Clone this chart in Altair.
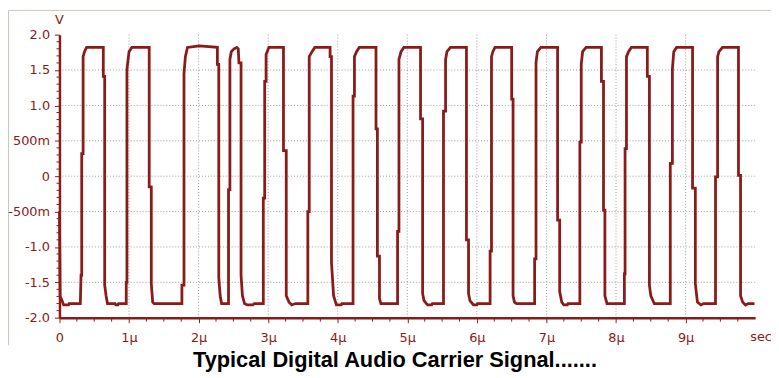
import altair as alt
import pandas as pd

# ---- waveform (time in microseconds, voltage in volts) ----
t_us = [
    0.00, 0.01, 0.03, 0.06, 0.13, 0.14, 0.30,
    0.31, 0.32, 0.32, 0.34, 0.34, 0.36, 0.39, 0.63,
    0.63, 0.65, 0.65, 0.67, 0.69, 0.80, 0.81, 0.84, 0.85, 0.96,
    0.96, 0.97, 0.97, 1.00, 1.04, 1.29,
    1.29, 1.32, 1.32, 1.34, 1.36, 1.76,
    1.76, 1.79, 1.79, 1.81, 1.84, 2.01, 2.27,
    2.27, 2.29, 2.29, 2.31, 2.33, 2.43,
    2.43, 2.45, 2.45, 2.47, 2.51, 2.55, 2.57, 2.58, 2.61, 2.61, 2.63, 2.66, 2.70, 2.78, 2.80, 2.93,
    2.93, 2.95, 2.95, 2.97, 2.97, 3.01, 3.22,
    3.22, 3.26, 3.26, 3.30, 3.34, 3.39, 3.57,
    3.57, 3.59, 3.59, 3.63, 3.67, 3.89,
    3.89, 3.91, 3.91, 3.94, 3.98, 4.05, 4.06, 4.22,
    4.22, 4.24, 4.24, 4.27, 4.31, 4.55,
    4.55, 4.57, 4.57, 4.60, 4.60, 4.62, 4.86,
    4.86, 4.88, 4.88, 4.91, 4.95, 5.19,
    5.19, 5.22, 5.22, 5.24, 5.29, 5.35, 5.36, 5.52,
    5.52, 5.55, 5.55, 5.57, 5.62, 5.85,
    5.85, 5.88, 5.88, 5.90, 5.95, 6.00, 6.01, 6.19,
    6.19, 6.21, 6.21, 6.23, 6.26, 6.50,
    6.50, 6.52, 6.52, 6.54, 6.57, 6.83,
    6.83, 6.85, 6.85, 6.87, 6.92, 7.16,
    7.16, 7.19, 7.19, 7.22, 7.25, 7.30, 7.31, 7.48,
    7.48, 7.50, 7.50, 7.52, 7.57, 7.79,
    7.79, 7.82, 7.82, 7.84, 7.84, 7.87, 8.12,
    8.12, 8.13, 8.13, 8.15, 8.15, 8.18, 8.22, 8.45,
    8.45, 8.48, 8.48, 8.50, 8.55, 8.78,
    8.78, 8.81, 8.81, 8.83, 8.87, 9.10,
    9.10, 9.14, 9.14, 9.17, 9.22, 9.26, 9.43,
    9.43, 9.46, 9.46, 9.48, 9.53, 9.76,
    9.76, 9.79, 9.79, 9.82, 9.86, 9.90, 9.99,
]
volts = [
    -0.50, -1.70, -1.74, -1.82, -1.82, -1.80, -1.80,
    -1.40, -1.40, 0.32, 0.32, 1.69, 1.76, 1.82, 1.82,
    1.41, 1.41, -1.54, -1.69, -1.80, -1.80, -1.82, -1.82, -1.80, -1.80,
    -1.50, -1.50, 1.51, 1.76, 1.82, 1.82,
    -0.15, -0.15, -1.52, -1.78, -1.80, -1.80,
    -1.54, -1.54, 1.45, 1.69, 1.82, 1.84, 1.82,
    1.58, 1.58, -1.43, -1.69, -1.80, -1.80,
    -0.19, -0.19, 1.65, 1.76, 1.80, 1.82, 1.80, 1.60, 1.60, -1.40, -1.69, -1.80, -1.82, -1.82, -1.80, -1.80,
    -0.31, -0.31, 1.34, 1.34, 1.72, 1.82, 1.82,
    0.36, 0.36, -1.69, -1.78, -1.82, -1.80, -1.80,
    -0.50, -0.50, 1.69, 1.76, 1.82, 1.82,
    1.69, 1.69, -1.22, -1.69, -1.82, -1.82, -1.80, -1.80,
    1.13, 1.13, 1.69, 1.76, 1.82, 1.82,
    0.67, 0.67, -1.13, -1.13, -1.73, -1.80, -1.80,
    -0.78, -0.78, 1.65, 1.76, 1.82, 1.82,
    0.81, 0.81, -1.66, -1.76, -1.82, -1.82, -1.80, -1.80,
    0.92, 0.92, 1.65, 1.76, 1.82, 1.82,
    -0.90, -0.90, -1.66, -1.76, -1.82, -1.82, -1.80, -1.80,
    -1.06, -1.06, 1.69, 1.76, 1.82, 1.82,
    1.09, 1.09, -1.69, -1.78, -1.80, -1.80,
    -1.17, -1.17, 1.61, 1.76, 1.82, 1.82,
    -0.62, -0.62, -1.63, -1.78, -1.82, -1.82, -1.80, -1.80,
    0.48, 0.48, 1.58, 1.76, 1.82, 1.82,
    1.34, 1.34, -0.48, -0.48, -1.69, -1.80, -1.80,
    -1.38, -1.38, 0.39, 0.39, 1.69, 1.76, 1.82, 1.82,
    1.41, 1.41, -1.54, -1.69, -1.80, -1.80,
    0.18, 0.18, 1.51, 1.76, 1.82, 1.82,
    -0.17, -0.17, -1.52, -1.78, -1.82, -1.80, -1.80,
    -0.01, -0.01, 1.69, 1.76, 1.82, 1.82,
    0.01, 0.01, -1.69, -1.78, -1.82, -1.80, -1.80,
]

# ---- axes / labels ----
y_tick_values = [-2.0, -1.5, -1.0, -0.5, 0.0, 0.5, 1.0, 1.5, 2.0]
y_tick_labels = ["-2.0", "-1.5", "-1.0", "-500m", "0", "500m", "1.0", "1.5", "2.0"]
x_tick_values = [0, 1, 2, 3, 4, 5, 6, 7, 8, 9]
x_tick_labels = ["0", "1μ", "2μ", "3μ", "4μ", "5μ", "6μ", "7μ", "8μ", "9μ"]
y_grid_values = [-1.5, -1.0, -0.5, 0.0, 0.5, 1.0, 1.5]
x_grid_values = [1, 2, 3, 4, 5, 6, 7, 8, 9]
y_minor_values = [round(-2.0 + 0.1 * k, 1) for k in range(41) if k % 5 != 0]
x_minor_values = [0.25 * k for k in range(40) if k % 4 != 0]

title_text = "Typical Digital Audio Carrier Signal......."
y_unit = "V"
x_unit = "sec"

DARK = "#8b1a1a"
GRID = "#9c9c9c"
W, H = 703, 286


def label_expr(values, labels):
    parts = [f"abs(datum.value - ({v})) < 1e-6 ? '{l}'" for v, l in zip(values, labels)]
    return " : ".join(parts) + " : ''"


xscale = alt.Scale(domain=[0, 10], nice=False, zero=False)
yscale = alt.Scale(domain=[-2, 2], nice=False, zero=False)

x_axis = alt.Axis(
    values=x_tick_values,
    labelExpr=label_expr(x_tick_values, x_tick_labels),
    title=None,
    grid=False,
    domainColor=DARK,
    domainWidth=2.5,
    tickColor=DARK,
    tickSize=5,
    tickWidth=1,
    labelColor=DARK,
    labelFont="DejaVu Sans",
    labelFontSize=13,
    labelPadding=9,
    labelFlush=False,
    labelOverlap=False,
    labelBound=False,
    zindex=1,
)
y_axis = alt.Axis(
    values=y_tick_values,
    labelExpr=label_expr(y_tick_values, y_tick_labels),
    title=None,
    grid=False,
    domainColor=DARK,
    domainWidth=2.5,
    tickColor=DARK,
    tickSize=5,
    tickWidth=1,
    labelColor=DARK,
    labelFont="DejaVu Sans",
    labelFontSize=13,
    labelPadding=5,
    labelFlush=False,
    labelOverlap=False,
    labelBound=False,
    zindex=1,
)

df = pd.DataFrame({"t": t_us, "v": volts, "i": list(range(len(t_us)))})

hgrid = alt.Chart(pd.DataFrame({"g": y_grid_values})).mark_rule(
    color=GRID, strokeWidth=1, strokeDash=[1, 2]
).encode(y=alt.Y("g:Q", scale=yscale, axis=y_axis), x=alt.value(0), x2=alt.value(W))

vgrid = alt.Chart(pd.DataFrame({"g": x_grid_values})).mark_rule(
    color=GRID, strokeWidth=1, strokeDash=[1, 2]
).encode(x=alt.X("g:Q", scale=xscale, axis=x_axis), y=alt.value(0), y2=alt.value(H))

yminor = alt.Chart(pd.DataFrame({"m": y_minor_values})).mark_rule(
    color=DARK, strokeWidth=1
).encode(y=alt.Y("m:Q", scale=yscale, axis=y_axis), x=alt.value(-3), x2=alt.value(0))

xminor = alt.Chart(pd.DataFrame({"m": x_minor_values})).mark_rule(
    color=DARK, strokeWidth=1
).encode(x=alt.X("m:Q", scale=xscale, axis=x_axis), y=alt.value(H), y2=alt.value(H + 4))

line = alt.Chart(df).mark_line(color=DARK, strokeWidth=2.8, strokeJoin="miter").encode(
    x=alt.X("t:Q", scale=xscale, axis=x_axis),
    y=alt.Y("v:Q", scale=yscale, axis=y_axis),
    order=alt.Order("i:Q"),
)

one = pd.DataFrame({"k": [0]})

border_top = alt.Chart(one).mark_rule(color="#cbc6bd", strokeWidth=1).encode(
    x=alt.value(-51.5), x2=alt.value(W + 16), y=alt.value(-24.5)
)
border_left = alt.Chart(one).mark_rule(color="#cbc6bd", strokeWidth=1).encode(
    x=alt.value(-51.5), y=alt.value(-24.5), y2=alt.value(314)
)

v_label = alt.Chart(pd.DataFrame({"s": [y_unit]})).mark_text(
    font="DejaVu Sans", fontSize=13, color=DARK, align="center", baseline="middle"
).encode(text="s:N", x=alt.value(0), y=alt.value(-15))

sec_label = alt.Chart(pd.DataFrame({"s": [x_unit]})).mark_text(
    font="DejaVu Sans", fontSize=13, color=DARK, align="left", baseline="middle"
).encode(text="s:N", x=alt.value(698), y=alt.value(306))

title = alt.Chart(pd.DataFrame({"s": [title_text]})).mark_text(
    font="Liberation Sans", fontSize=22, fontWeight="bold", color="black",
    align="center", baseline="alphabetic"
).encode(text="s:N", x=alt.value(339), y=alt.value(336))

chart = alt.layer(
    hgrid, vgrid, yminor, xminor, line, border_top, border_left, v_label, sec_label, title
).properties(
    width=W,
    height=H,
    padding={"left": 52, "top": 25, "right": 16, "bottom": 59},
    autosize=alt.AutoSizeParams(type="none"),
    background="white",
).configure_view(stroke=None)

chart.save("out.html", embed_options={"renderer": "svg", "actions": False})
